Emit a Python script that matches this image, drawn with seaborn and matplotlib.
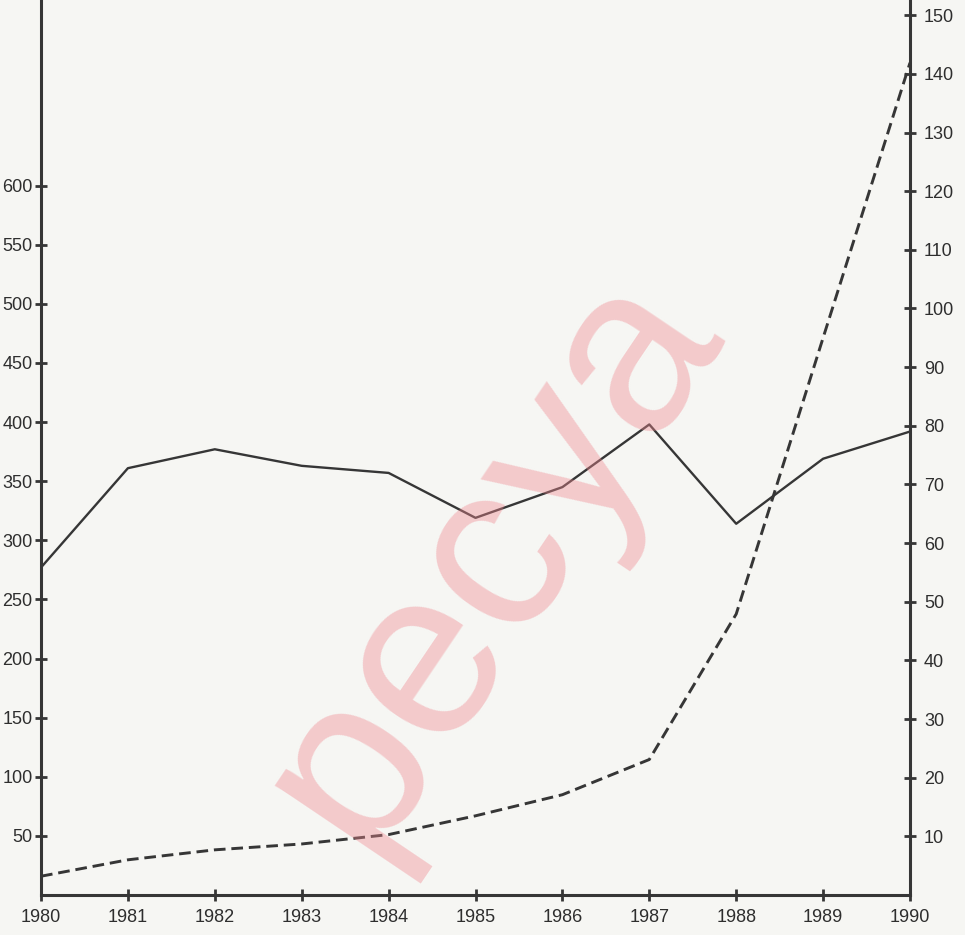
import matplotlib
matplotlib.use("Agg")
import matplotlib.pyplot as plt
import pandas as pd
import seaborn as sns

years = [1980, 1981, 1982, 1983, 1984, 1985, 1986, 1987, 1988, 1989, 1990]
solid_values = [277, 361, 377, 363, 357, 319, 345, 398, 314, 369, 392]
dashed_values = [3.2, 6.0, 7.7, 8.7, 10.3, 13.5, 17.1, 23.1, 47.9, 95.0, 141.9]
left_ticks = [50, 100, 150, 200, 250, 300, 350, 400, 450, 500, 550, 600]
right_ticks = [10, 20, 30, 40, 50, 60, 70, 80, 90, 100, 110, 120, 130, 140, 150]
watermark = "pecya"

ink = "#363636"
paper = "#f6f6f3"

sns.set_theme(style="white")
plt.rcParams["font.family"] = ["Liberation Sans", "DejaVu Sans"]

df = pd.DataFrame({"year": years, "solid": solid_values, "dashed": dashed_values})

fig = plt.figure(figsize=(9.65, 9.35), dpi=100, facecolor=paper)
ax = fig.add_axes([41 / 965, 40 / 935, 869 / 965, 895 / 935])
ax.set_facecolor(paper)
ax2 = ax.twinx()

sns.lineplot(data=df, x="year", y="solid", ax=ax, color=ink, linewidth=1.7)
sns.lineplot(data=df, x="year", y="dashed", ax=ax2, color=ink, linewidth=2.1)
ax2.lines[0].set_dashes([4, 2])

ax.set_xlim(1980, 1990)
ax.set_ylim(0, 757)
ax2.set_ylim(0, 152.6)

ax.set_xticks(years)
ax.set_xticklabels([str(y) for y in years])
ax.set_yticks(left_ticks)
ax2.set_yticks(right_ticks)

for a in (ax, ax2):
    a.set_xlabel("")
    a.set_ylabel("")
    a.spines["top"].set_visible(False)
    for s in ("left", "right", "bottom"):
        a.spines[s].set_color(ink)
        a.spines[s].set_linewidth(2.2)
    a.tick_params(colors=ink, labelcolor="#2e2e2e", labelsize=13,
                  direction="inout", length=8, width=2)
    a.grid(False)

ax.spines["right"].set_visible(False)
ax2.spines["left"].set_visible(False)
ax2.spines["bottom"].set_visible(False)
ax.tick_params(axis="y", left=True, pad=2)
ax.tick_params(axis="x", bottom=True, pad=6)
ax2.tick_params(axis="y", right=True, pad=6)

# watermark across the plot
fig.text(542 / 965, 1 - 592 / 935, watermark, fontsize=172, color="#f08890",
         alpha=0.4, rotation=56, rotation_mode="anchor", ha="center",
         va="baseline", zorder=0)

fig.savefig("out.png", dpi=100, facecolor=paper)
